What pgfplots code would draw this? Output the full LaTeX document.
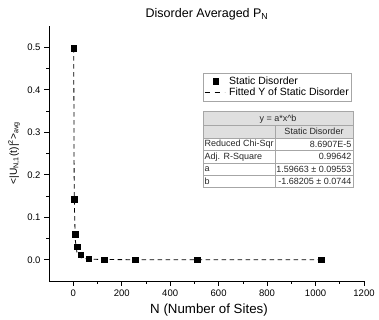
\documentclass[border=0pt]{standalone}
\usepackage{fontspec}
\setmainfont{Liberation Sans}
\usepackage{pgfplots}
\pgfplotsset{compat=1.18}
\pgfplotsset{
  legmark/.style={legend image code/.code={\draw[##1] plot coordinates {(11pt,0pt)}; \path (0pt,0pt) (22pt,0pt);}},
  legdash/.style={legend image code/.code={\draw[##1, dash pattern=on 5pt off 5pt] (0pt,0pt) -- (20pt,0pt); \path (22pt,0pt);}},
}
\begin{document}
\begin{tikzpicture}[x=1pt,y=1pt]
\path[use as bounding box] (0,0) rectangle (379,320);
\begin{axis}[
  at={(49pt,39pt)}, anchor=south west,
  scale only axis, width=315pt, height=255pt,
  xmin=-100, xmax=1200, ymin=-0.05, ymax=0.55,
  axis lines*=left,
  axis line style={-, line width=0.8pt},
  tick align=outside,
  major tick length=5pt, minor tick length=3pt,
  every tick/.style={black, line width=0.6pt},
  xtick={0,200,...,1200},
  ytick={0,0.1,0.2,0.3,0.4,0.5},
  minor x tick num=1, minor y tick num=1,
  tick label style={font=\fontsize{9.5}{11}\selectfont},
  /pgf/number format/assume math mode=true,
  xticklabel style={/pgf/number format/.cd, set thousands separator={}},
  yticklabel style={/pgf/number format/.cd, fixed, fixed zerofill, precision=1},
  legend style={at={(0.489,0.816)}, anchor=north west, draw=gray!70, line width=0.6pt,
    font=\fontsize{10.5}{12}\selectfont, inner xsep=1pt, inner ysep=1.5pt, row sep=-1.5pt,
    cells={anchor=west}},
  legend cell align=left,
  clip=false,
]
\addplot[only marks, mark=square*, mark size=2.7pt, black, legmark] coordinates {
(2,0.498) (4,0.142) (8,0.060) (16,0.031) (32,0.012) (64,0.003) (128,0.0) (256,0.0) (512,0.0) (1024,0.0)
};
\addlegendentry{Static Disorder}
\addplot[black, line width=0.8pt, dash pattern=on 4.5pt off 3.5pt, legdash] coordinates {
(2,0.498) (4,0.1553) (8,0.0484) (16,0.0151) (32,0.0047) (64,0.00147) (128,0.00046) (256,0.00014) (512,0.00004) (1024,0.00001)
};
\addlegendentry{Fitted Y of Static Disorder}
\end{axis}
% title and labels
\node at (207,306) {\fontsize{12.5}{14}\selectfont Disorder Averaged P\textsubscript{N}};
\node at (209,10) {\fontsize{13.3}{15}\selectfont N (Number of Sites)};
\node[rotate=90] at (14,167) {\fontsize{10.2}{12}\selectfont <|U\textsubscript{N,1}(t)|\textsuperscript{2}>\textsubscript{avg}};
% fit table
\fill[gray!25] (203,182) rectangle (353,208);
\draw[gray!70, line width=0.5pt] (203,194.5) -- (353,194.5);
\draw[gray!70, line width=0.5pt] (203,182) -- (353,182);
\draw[gray!70, line width=0.5pt] (203,169.5) -- (353,169.5);
\draw[gray!70, line width=0.5pt] (203,157) -- (353,157);
\draw[gray!70, line width=0.5pt] (203,144.5) -- (353,144.5);
\draw[gray!70, line width=0.5pt] (275,194.5) -- (275,132.5);
\draw[gray!70, line width=1pt] (203,132.5) rectangle (353,208);
\begin{scope}[every node/.style={font=\fontsize{9}{10}\selectfont, text=black!85, inner sep=0pt}]
\node at (278,201.25) {y = a*x\textasciicircum b};
\node at (314,188.25) {Static Disorder};
\node[anchor=west] at (204.5,175.75) {Reduced Chi-Sqr};
\node[anchor=east] at (351.5,175.75) {8.6907E-5};
\node[anchor=west] at (204.5,163.25) {Adj. R-Square};
\node[anchor=east] at (351.5,163.25) {0.99642};
\node[anchor=west] at (204.5,150.75) {a};
\node[anchor=east] at (351.5,150.75) {1.59663 ± 0.09553};
\node[anchor=west] at (204.5,138.5) {b};
\node[anchor=east] at (351.5,138.5) {-1.68205 ± 0.0744};
\end{scope}
\end{tikzpicture}
\end{document}
